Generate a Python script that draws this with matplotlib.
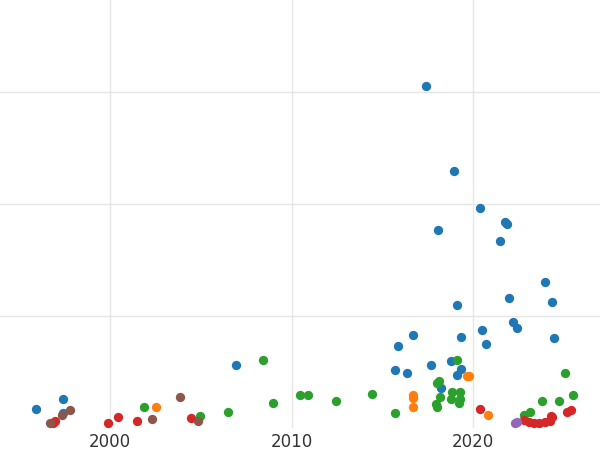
import matplotlib
matplotlib.use("Agg")
import matplotlib.pyplot as plt

blue_x = [1995.93,1997.42,1997.42,2006.92,2015.88,2015.71,2016.37,2016.70,2017.42,2017.69,2018.08,2018.24,2018.79,2018.96,2019.12,2019.12,2019.34,2019.34,2020.38,2020.49,2020.71,2021.48,2021.76,2021.87,2021.98,2022.20,2022.42,2023.96,2024.34,2024.45]
blue_y = [0.17,0.26,0.13,0.56,0.73,0.52,0.49,0.83,3.05,0.56,1.77,0.36,0.60,2.29,1.10,0.47,0.81,0.53,1.96,0.87,0.75,1.67,1.84,1.82,1.16,0.95,0.89,1.30,1.12,0.80]
green_x = [2001.87,2004.95,2006.48,2008.41,2008.96,2010.44,2010.88,2012.47,2014.40,2015.71,2018.02,2018.02,2018.13,2018.19,2018.79,2018.85,2019.12,2019.23,2019.29,2019.29,2022.80,2023.13,2023.79,2024.73,2025.05,2025.49,2017.97]
green_y = [0.19,0.11,0.14,0.61,0.22,0.29,0.29,0.24,0.30,0.13,0.19,0.40,0.42,0.28,0.26,0.32,0.61,0.22,0.32,0.26,0.12,0.14,0.24,0.24,0.49,0.29,0.21]
orange_x = [2002.53,2016.70,2016.70,2016.70,2019.67,2019.78,2020.82]
orange_y = [0.19,0.29,0.27,0.19,0.46,0.46,0.12]
red_x = [1996.87,1996.98,1999.89,2000.44,2001.48,2004.45,2020.38,2022.80,2023.08,2023.35,2023.63,2023.96,2024.23,2024.34,2025.16,2025.38,2024.29]
red_y = [0.04,0.06,0.04,0.10,0.06,0.09,0.17,0.07,0.05,0.04,0.04,0.05,0.06,0.10,0.14,0.16,0.11]
purple_x = [2022.31,2022.42]
purple_y = [0.04,0.05]
brown_x = [1996.70,1997.36,1997.80,2002.31,2003.85,2004.84]
brown_y = [0.04,0.12,0.16,0.08,0.28,0.06]

fig = plt.figure(figsize=(6,4.5), dpi=100)
ax = fig.add_axes([0,0.049,1,0.951])
s = 45
ax.scatter(blue_x, blue_y, s=s, color='#1f77b4', zorder=3, linewidths=0)
ax.scatter(green_x, green_y, s=s, color='#2ca02c', zorder=3, linewidths=0)
ax.scatter(orange_x, orange_y, s=s, color='#ff7f0e', zorder=3, linewidths=0)
ax.scatter(red_x, red_y, s=s, color='#d62728', zorder=3, linewidths=0)
ax.scatter(purple_x, purple_y, s=s, color='#9467bd', zorder=3, linewidths=0)
ax.scatter(brown_x, brown_y, s=s, color='#8c564b', zorder=3, linewidths=0)
ax.set_xlim(1993.96, 2026.97)
ax.set_ylim(0, 3.82)
ax.set_xticks([2000, 2010, 2020])
ax.set_yticks([1, 2, 3])
ax.set_yticklabels([])
ax.tick_params(length=0, labelsize=12, labelcolor='#333333')
ax.grid(True, color='#e6e6e6', linewidth=1)
ax.set_axisbelow(True)
for sp in ax.spines.values():
    sp.set_visible(False)
fig.savefig('out.png', dpi=100)
